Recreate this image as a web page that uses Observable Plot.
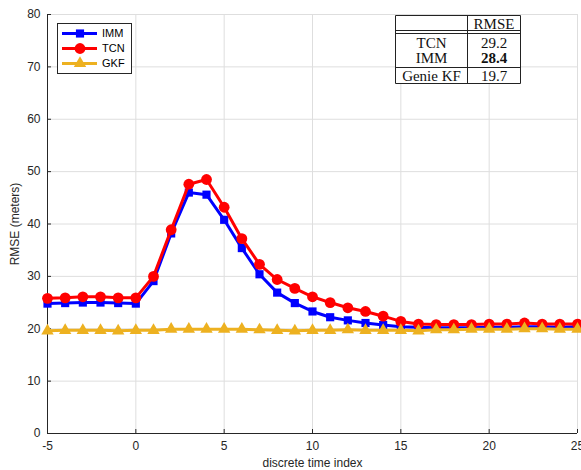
<!DOCTYPE html>
<html><head><meta charset="utf-8">
<script src="https://cdn.jsdelivr.net/npm/d3@7"></script>
<script src="https://cdn.jsdelivr.net/npm/@observablehq/plot@0.6"></script>
<style>
body{margin:0;background:#fff;}
#wrap{position:relative;width:581px;height:470px;overflow:hidden;}
#wrap svg{position:absolute;left:0;top:0;}
</style></head><body><div id="wrap"></div>
<script>
const timeIndex = [-5,-4,-3,-2,-1,0,1,2,3,4,5,6,7,8,9,10,11,12,13,14,15,16,17,18,19,20,21,22,23,24,25];
const imm = [24.8,24.9,25.0,25.0,24.9,24.8,29.1,38.2,46.0,45.6,40.8,35.4,30.4,26.9,24.9,23.3,22.2,21.6,21.1,20.7,20.4,20.3,20.2,20.2,20.2,20.3,20.3,20.4,20.4,20.3,20.4];
const tcn = [25.8,25.9,26.1,26.1,25.9,25.9,30.0,38.9,47.6,48.5,43.2,37.2,32.3,29.4,27.7,26.1,25.0,24.0,23.3,22.4,21.4,20.9,20.8,20.8,20.8,20.9,20.9,21.1,20.9,20.9,20.9];
const gkf = [19.6,19.7,19.7,19.7,19.6,19.7,19.7,19.9,19.9,19.9,19.9,19.9,19.8,19.7,19.6,19.7,19.7,19.8,19.7,19.7,19.7,19.6,19.8,19.8,19.9,19.9,19.9,20.0,20.0,19.9,19.9];
const xTicks = [-5,0,5,10,15,20,25];
const yTicks = [0,10,20,30,40,50,60,70,80];
const seriesNames = ["IMM","TCN","GKF"];
const seriesColors = ["#0000ff","#ff0000","#edb120"];
const seriesSymbols = ["square","circle","triangle"];
const seriesRadius = [4.6,5.4,4.6];
const tableHeader = "RMSE";
const tableMethods = ["TCN","IMM","Genie KF"];
const tableRmse = ["29.2","28.4","19.7"];
const tableBold = [false,true,false];

const seriesValues = [imm,tcn,gkf];
const font = "'Liberation Sans', Arial, Helvetica, sans-serif";
const ink = "#262626";

const marks = [
  Plot.gridX(xTicks,{stroke:"#dedede",strokeOpacity:1}),
  Plot.gridY(yTicks,{stroke:"#dedede",strokeOpacity:1}),
  Plot.axisX({ticks:xTicks,tickFormat:d=>String(d),tickSize:-4,tickPadding:12,stroke:ink,fill:ink,fontSize:12,
    label:"discrete time index",labelAnchor:"center",labelArrow:"none",labelOffset:33}),
  Plot.axisY({ticks:yTicks,tickFormat:d=>String(d),tickSize:-4,tickPadding:11,stroke:ink,fill:ink,fontSize:12,
    label:"RMSE (meters)",labelAnchor:"center",labelArrow:"none",labelOffset:37}),
  Plot.ruleX([-5],{stroke:ink,strokeWidth:1}),
  Plot.ruleY([0],{stroke:ink,strokeWidth:1})
];
seriesNames.forEach((name,i)=>{
  const data = timeIndex.map((t,j)=>({t,v:seriesValues[i][j]}));
  marks.push(Plot.line(data,{x:"t",y:"v",stroke:seriesColors[i],strokeWidth:3}));
  marks.push(Plot.dot(data,{x:"t",y:"v",fill:seriesColors[i],stroke:null,symbol:seriesSymbols[i],r:seriesRadius[i]}));
});

const plot = Plot.plot({
  width:581,height:470,marginLeft:47,marginRight:4,marginTop:14,marginBottom:37,
  style:{fontFamily:font,fontSize:"12px",color:ink,background:"#fff",overflow:"visible"},
  x:{domain:[-5,25]},
  y:{domain:[0,80]},
  marks
});
const wrap = document.getElementById("wrap");
wrap.appendChild(plot);

// overlay: legend + table
const ov = d3.select(wrap).append("svg").attr("width",581).attr("height",470)
  .style("font-family",font);
// legend
const lg = ov.append("g");
lg.append("rect").attr("x",57.5).attr("y",23.5).attr("width",74).attr("height",50)
  .attr("fill","#fff").attr("stroke",ink).attr("stroke-width",1);
const sym = {square:d3.symbolSquare,circle:d3.symbolCircle,triangle:d3.symbolTriangle};
seriesNames.forEach((name,i)=>{
  const y = 33.5 + i*15;
  lg.append("line").attr("x1",62).attr("x2",97).attr("y1",y).attr("y2",y)
    .attr("stroke",seriesColors[i]).attr("stroke-width",3);
  const r = seriesRadius[i];
  lg.append("path").attr("d",d3.symbol(sym[seriesSymbols[i]], Math.PI*r*r)())
    .attr("transform",`translate(80,${y})`).attr("fill",seriesColors[i]);
  lg.append("text").attr("x",102).attr("y",y).attr("dy","0.35em")
    .attr("font-size",11).attr("fill","#000").text(name);
});
// table
const tb = ov.append("g").style("font-family","'Liberation Serif','Times New Roman',serif")
  .attr("font-size",15).attr("fill","#111");
const L=395.5,R=520.5,M=467.5;
const line=(x1,y1,x2,y2)=>tb.append("line").attr("x1",x1).attr("y1",y1).attr("x2",x2).attr("y2",y2)
  .attr("stroke","#222").attr("stroke-width",1);
tb.append("rect").attr("x",L).attr("y",15.5).attr("width",R-L).attr("height",68).attr("fill","#fff");
line(L,15.5,R,15.5); line(L,83.5,R,83.5); line(L,15.5,L,83.5); line(R,15.5,R,83.5); line(M,15.5,M,83.5);
line(L,30.5,R,30.5); line(L,33.5,R,33.5); line(L,67.5,R,67.5);
tb.append("text").attr("x",(M+R)/2).attr("y",23.5).attr("dy","0.35em").attr("text-anchor","middle").text(tableHeader);
const rowY=[42.5,57.5,75.5];
tableMethods.forEach((m,i)=>{
  tb.append("text").attr("x",(L+M)/2).attr("y",rowY[i]).attr("dy","0.35em").attr("text-anchor","middle").text(m);
  tb.append("text").attr("x",(M+R)/2).attr("y",rowY[i]).attr("dy","0.35em").attr("text-anchor","middle")
    .attr("font-weight",tableBold[i]?"bold":"normal").text(tableRmse[i]);
});
</script></body></html>
